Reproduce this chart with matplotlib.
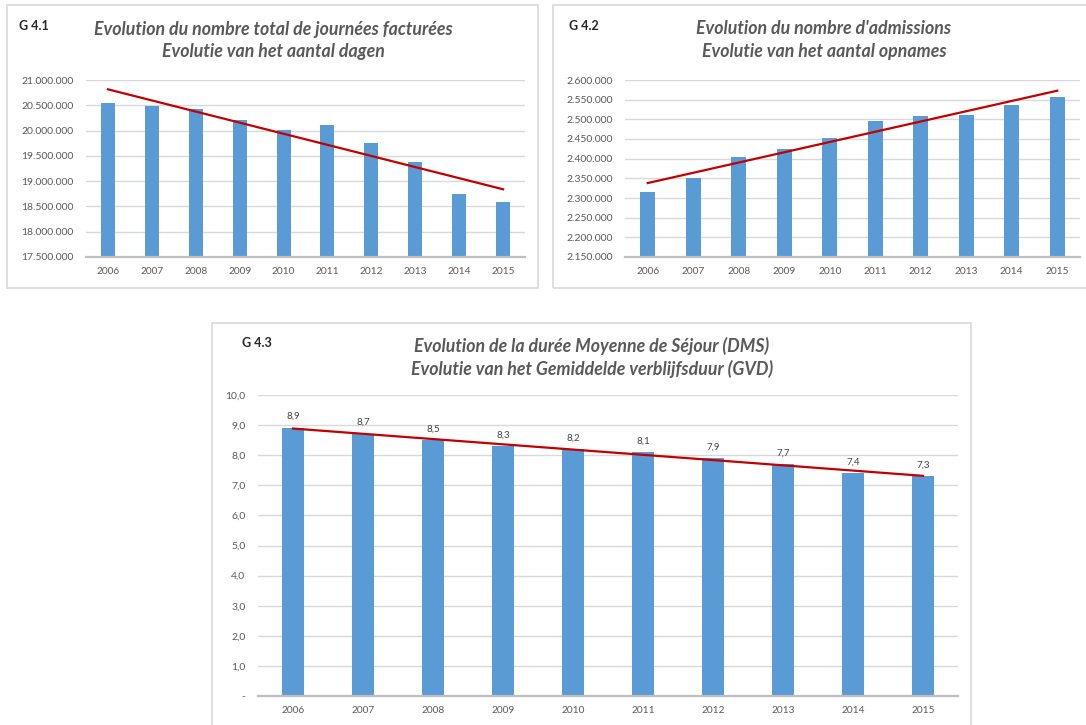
import numpy as np
import matplotlib
matplotlib.use("Agg")
import matplotlib.pyplot as plt
from matplotlib.patches import Rectangle
from matplotlib.ticker import FuncFormatter, MultipleLocator

# data

years = [2006, 2007, 2008, 2009, 2010, 2011, 2012, 2013, 2014, 2015]
journees = [20550000, 20485000, 20420000, 20210000, 20020000,
            20110000, 19760000, 19375000, 18755000, 18590000]
admissions = [2314000, 2352000, 2403000, 2424000, 2453000,
              2496000, 2509000, 2511000, 2536000, 2556000]
dms = [8.9, 8.7, 8.5, 8.3, 8.2, 8.1, 7.9, 7.7, 7.4, 7.3]

titles = {
    "G 4.1": ["Evolution du nombre total de journées facturées", "Evolutie van het aantal dagen"],
    "G 4.2": ["Evolution du nombre d'admissions", "Evolutie van het aantal opnames"],
    "G 4.3": ["Evolution de la durée Moyenne de Séjour (DMS)", "Evolutie van het Gemiddelde verblijfsduur (GVD)"],
}

BAR = "#5B9BD5"
TREND = "#C00000"
GRID = "#D9D9D9"
TXT = "#595959"

plt.rcParams['font.family'] = ['Lato', 'DejaVu Sans']

W, H = 1086, 725
fig = plt.figure(figsize=(W / 100, H / 100), dpi=100)


def box(x0, y0, x1, y1):
    # pixel box (top-left origin) -> figure fraction rect
    return [x0 / W, 1 - y1 / H, (x1 - x0) / W, (y1 - y0) / H]


def panel_frame(x0, y0, x1, y1):
    fig.patches.append(Rectangle((x0 / W, 1 - y1 / H), (x1 - x0) / W, (y1 - y0) / H,
                                 transform=fig.transFigure, fill=False,
                                 edgecolor=GRID, lw=1.2))


def panel_text(label, lines, lx, ly, cx, ty):
    fig.text(lx / W, 1 - ly / H, label, fontsize=9, fontweight='bold',
             color='#262626', ha='left', va='center')
    for i, line in enumerate(lines):
        fig.text(cx / W, 1 - (ty + 23 * i) / H, line, fontsize=12.8, style='italic',
                 fontweight='bold', color=TXT, ha='center', va='center')


def bar_chart(ax, values, ylim, step, fmt):
    x = np.arange(len(years))
    ax.bar(x, values, width=0.32, color=BAR, zorder=2)
    coef = np.polyfit(x, values, 1)
    ax.plot(x, np.polyval(coef, x), color=TREND, lw=1.6, zorder=3)
    ax.set_xlim(-0.5, len(years) - 0.5)
    ax.set_ylim(*ylim)
    ax.yaxis.set_major_locator(MultipleLocator(step))
    ax.yaxis.set_major_formatter(FuncFormatter(fmt))
    ax.set_xticks(x)
    ax.set_xticklabels([str(y) for y in years])
    ax.grid(axis='y', color=GRID, lw=1, zorder=0)
    ax.set_axisbelow(True)
    for s in ['top', 'left', 'right']:
        ax.spines[s].set_visible(False)
    ax.spines['bottom'].set_color('#BFBFBF')
    ax.spines['bottom'].set_linewidth(1.6)
    ax.tick_params(axis='y', length=0, pad=9, labelsize=7.5, labelcolor=TXT)
    ax.tick_params(axis='x', length=0, pad=7, labelsize=7.3, labelcolor=TXT)
    return x


def thousands(v, pos):
    return f"{int(round(v)):,}".replace(",", ".")


def decimal(v, pos):
    if abs(v) < 1e-9:
        return "-"
    return f"{v:.1f}".replace(".", ",")


# G 4.1
panel_frame(7, 5, 538, 288)
panel_text("G 4.1", titles["G 4.1"], 19, 26, 273, 29)
ax1 = fig.add_axes(box(86, 80, 525, 257))
bar_chart(ax1, journees, (17500000, 21000000), 500000, thousands)

# G 4.2
panel_frame(553, 5, 1100, 288)
panel_text("G 4.2", titles["G 4.2"], 569, 26, 824, 29)
ax2 = fig.add_axes(box(625, 80, 1080, 257))
bar_chart(ax2, admissions, (2150000, 2600000), 50000, thousands)

# G 4.3
panel_frame(212, 323, 971, 740)
panel_text("G 4.3", titles["G 4.3"], 242, 343, 592, 346)
ax3 = fig.add_axes(box(258, 395, 958, 696))
x3 = bar_chart(ax3, dms, (0, 10), 1, decimal)
for xi, v in zip(x3, dms):
    ax3.annotate(f"{v:.1f}".replace(".", ","), (xi, v), xytext=(0, 5),
                 textcoords='offset points', ha='center', va='bottom',
                 fontsize=7, color='#404040')

fig.savefig("out.png", dpi=100)
